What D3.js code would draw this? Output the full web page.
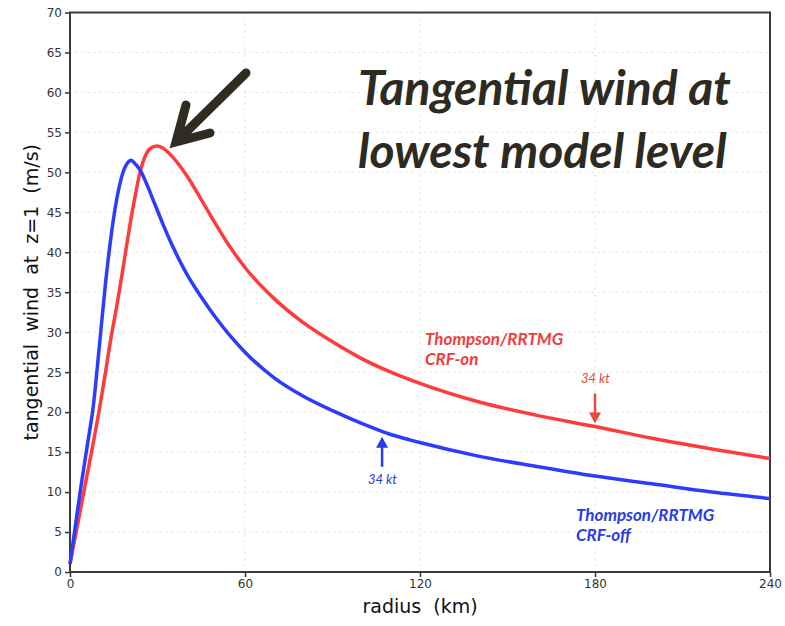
<!DOCTYPE html>
<html>
<head>
<meta charset="utf-8">
<script src="https://cdn.jsdelivr.net/npm/d3@7"></script>
<style>
  body { margin: 0; background: #fff; }
  svg { display: block; }
</style>
</head>
<body>
<div id="chart"></div>
<script>
// radius (km) and tangential wind at z=1 (m/s)
var radiusOn  = [0, 2, 4, 6, 8, 10, 12, 14, 16, 18, 20, 22, 24, 26, 28, 30, 32, 35, 40, 45, 50, 55, 60, 70, 80, 90, 100, 110, 120, 140, 160, 180, 200, 220, 240];
var windOn    = [1.0, 4.8, 8.6, 12.4, 16.2, 20.2, 24.6, 29.2, 33.2, 37.6, 42.2, 46.4, 50.0, 52.2, 53.1, 53.3, 53.0, 52.0, 49.6, 46.6, 43.5, 40.6, 38.1, 34.2, 31.2, 28.8, 26.7, 25.0, 23.6, 21.3, 19.6, 18.2, 16.7, 15.4, 14.2];

var radiusOff = [0, 2, 4, 6, 8, 10, 12, 14, 16, 18, 20, 21, 22, 24, 26, 28, 30, 32, 35, 40, 45, 50, 55, 60, 70, 80, 90, 100, 110, 120, 140, 160, 180, 200, 220, 240];
var windOff   = [1.0, 6.2, 11.3, 16.0, 20.8, 28.0, 35.5, 41.8, 46.6, 49.8, 51.3, 51.5, 51.2, 50.3, 48.8, 47.0, 45.2, 43.4, 40.9, 37.3, 34.4, 31.8, 29.5, 27.5, 24.3, 22.0, 20.2, 18.6, 17.2, 16.2, 14.5, 13.2, 12.0, 11.0, 10.0, 9.2];

var xTicks = [0, 60, 120, 180, 240];
var yTicks = [0, 5, 10, 15, 20, 25, 30, 35, 40, 45, 50, 55, 60, 65, 70];

var W = 785, H = 626;
var margin = {left: 70, right: 15, top: 12.5, bottom: 54};

var svg = d3.select("#chart").append("svg")
  .attr("width", W)
  .attr("height", H);

var x = d3.scaleLinear().domain([0, 240]).range([margin.left, W - margin.right]);
var y = d3.scaleLinear().domain([0, 70]).range([H - margin.bottom, margin.top]);

// dotted grid
svg.append("g").selectAll("line")
  .data(yTicks.filter(function(d) { return d > 0 && d < 70; }))
  .enter().append("line")
  .attr("x1", x(0)).attr("x2", x(240))
  .attr("y1", function(d) { return y(d); })
  .attr("y2", function(d) { return y(d); })
  .attr("stroke", "#d8d8d8")
  .attr("stroke-dasharray", "1.5,4.5");

svg.append("g").selectAll("line")
  .data(xTicks.filter(function(d) { return d > 0 && d < 240; }))
  .enter().append("line")
  .attr("y1", y(0)).attr("y2", y(70))
  .attr("x1", function(d) { return x(d); })
  .attr("x2", function(d) { return x(d); })
  .attr("stroke", "#d8d8d8")
  .attr("stroke-dasharray", "1.5,4.5");

// axes
var xAxis = svg.append("g")
  .attr("transform", "translate(0," + y(0) + ")")
  .call(d3.axisBottom(x).tickValues(xTicks).tickSize(5).tickPadding(2).tickSizeOuter(0));
var yAxis = svg.append("g")
  .attr("transform", "translate(" + x(0) + ",0)")
  .call(d3.axisLeft(y).tickValues(yTicks).tickSize(5).tickPadding(3).tickSizeOuter(0));

[xAxis, yAxis].forEach(function(a) {
  a.select(".domain").remove();
  a.selectAll(".tick line").attr("stroke", "#333").attr("stroke-width", 1.5);
  a.selectAll("text")
    .attr("fill", "#333")
    .style("font-family", "'DejaVu Sans', sans-serif")
    .style("font-size", "12px");
});

// frame
svg.append("rect")
  .attr("x", x(0)).attr("y", y(70))
  .attr("width", x(240) - x(0))
  .attr("height", y(0) - y(70))
  .attr("fill", "none")
  .attr("stroke", "#3a3a3a")
  .attr("stroke-width", 2);

// axis titles
svg.append("text")
  .attr("x", (x(0) + x(240)) / 2)
  .attr("y", 613)
  .attr("text-anchor", "middle")
  .style("font-family", "'DejaVu Sans', sans-serif")
  .style("font-size", "19px")
  .attr("fill", "#111")
  .attr("xml:space", "preserve")
  .text("radius  (km)");

svg.append("text")
  .attr("transform", "translate(38," + ((y(0) + y(70)) / 2) + ") rotate(-90)")
  .attr("text-anchor", "middle")
  .style("font-family", "'DejaVu Sans', sans-serif")
  .style("font-size", "19px")
  .attr("fill", "#111")
  .attr("xml:space", "preserve")
  .text("tangential  wind  at  z=1  (m/s)");

// curves
var line = d3.line()
  .x(function(d) { return x(d[0]); })
  .y(function(d) { return y(d[1]); })
  .curve(d3.curveMonotoneX);

svg.append("path")
  .datum(d3.zip(radiusOn, windOn))
  .attr("d", line)
  .attr("fill", "none")
  .attr("stroke", "#ff3b3b")
  .attr("stroke-width", 3.5);

svg.append("path")
  .datum(d3.zip(radiusOff, windOff))
  .attr("d", line)
  .attr("fill", "none")
  .attr("stroke", "#2b3cff")
  .attr("stroke-width", 3.5);

// big title and arrow
var title = svg.append("text")
  .style("font-family", "Lato, 'Open Sans', sans-serif")
  .style("font-weight", "bold")
  .style("font-style", "italic")
  .style("font-size", "48px")
  .attr("fill", "#2d2a22");
title.append("tspan").attr("x", 358).attr("y", 105).text("Tangential wind at");
title.append("tspan").attr("x", 358).attr("y", 168).text("lowest model level");

svg.append("path")
  .attr("d", "M246,73 L177,141 M186,105 L176,142 L210,133")
  .attr("fill", "none")
  .attr("stroke", "#302c22")
  .attr("stroke-width", 9)
  .attr("stroke-linecap", "round")
  .attr("stroke-linejoin", "miter");

// series labels
function label(lines, x0, y0, color) {
  var t = svg.append("text")
    .style("font-family", "Lato, 'Open Sans', sans-serif")
    .style("font-weight", "bold")
    .style("font-style", "italic")
    .style("font-size", "17px")
    .attr("fill", color);
  lines.forEach(function(s, i) {
    t.append("tspan").attr("x", x0).attr("y", y0 + i * 20).text(s);
  });
}
label(["Thompson/RRTMG", "CRF-on"], 425, 345, "#f23c3c");
label(["Thompson/RRTMG", "CRF-off"], 576, 521, "#2a3ae6");

// 34 kt markers
function marker(r, v, dir, color, tx, ty) {
  var tipY = y(v) + (dir > 0 ? -3 : 3);
  var tailY = tipY - dir * 30;
  svg.append("line")
    .attr("x1", x(r)).attr("x2", x(r))
    .attr("y1", tailY).attr("y2", tipY - dir * 8)
    .attr("stroke", color).attr("stroke-width", 2.5);
  svg.append("path")
    .attr("d", "M" + (x(r) - 6) + "," + (tipY - dir * 11) + " L" + x(r) + "," + tipY + " L" + (x(r) + 6) + "," + (tipY - dir * 11) + " Z")
    .attr("fill", color);
  svg.append("text")
    .attr("x", tx).attr("y", ty)
    .style("font-family", "Lato, 'Open Sans', sans-serif")
    .style("font-style", "italic")
    .style("font-size", "13px")
    .attr("fill", color)
    .text("34 kt");
}
marker(180, 18.2, 1, "#e84a3c", 581, 383);
marker(107, 17.3, -1, "#2a3ae6", 368, 484);
</script>
</body>
</html>
